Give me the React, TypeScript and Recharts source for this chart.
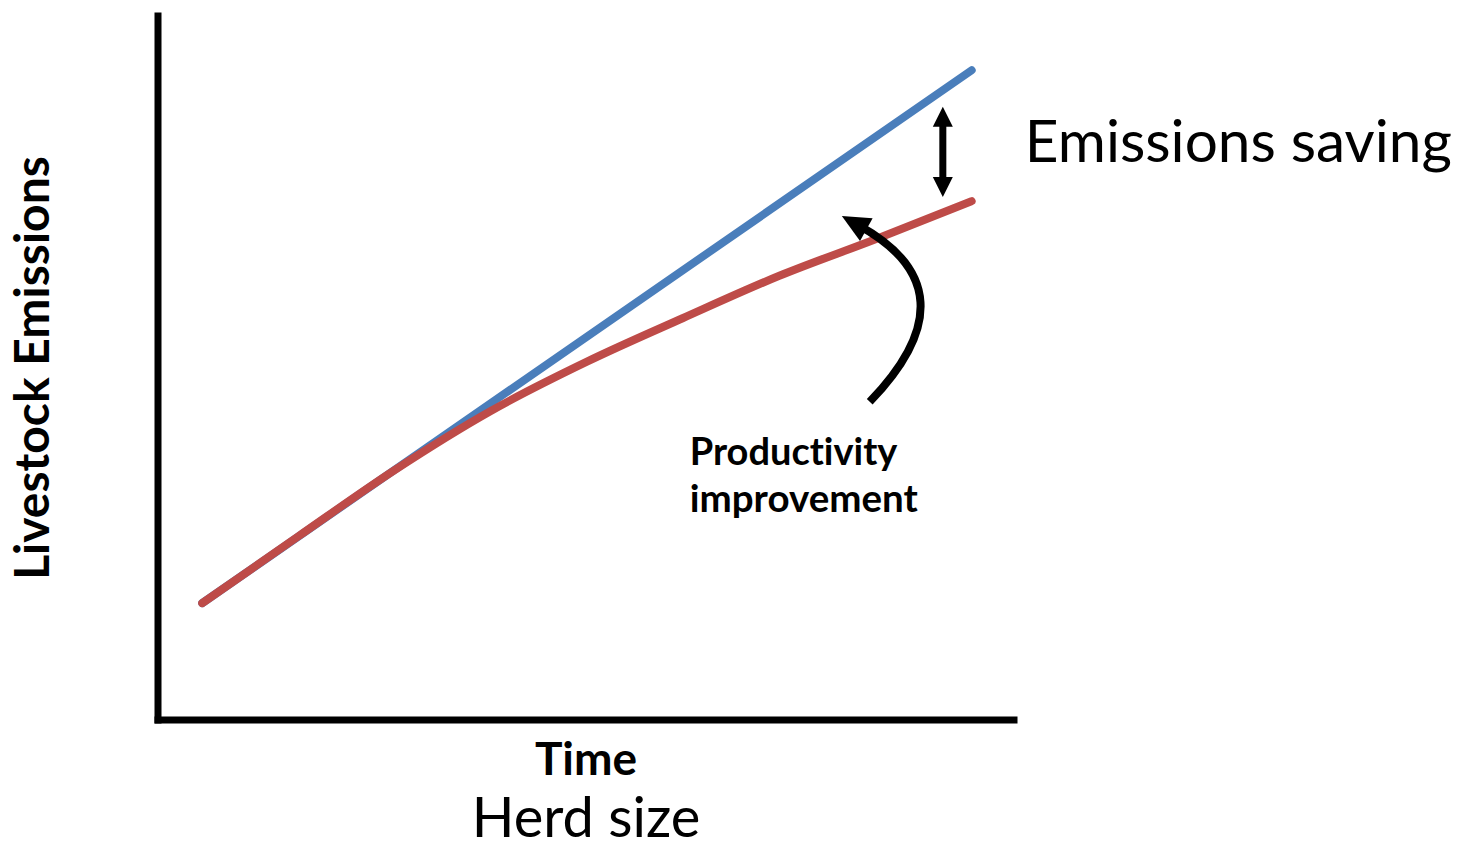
import { LineChart, Line, XAxis, YAxis, ReferenceLine, Label } from "recharts";

// time steps along the x axis
const TIME = [1, 2, 3, 4, 5, 6, 7, 8, 9];
// emissions when productivity improves (red)
const WITH_PRODUCTIVITY = [16.6, 26.1, 35.5, 43.9, 50.9, 57.1, 63.1, 68.3, 73.7];
// business-as-usual straight line (blue), start and end only
const BAU_TIME = [1, 9];
const BAU = [16.6, 92.3];

// annotation anchors, in data units
const SAVING_AT = 8.7;
const SAVING_RANGE = [87.1, 74.3];
const IMPROVEMENT_FROM = { t: 7.94, v: 45.2 };
const IMPROVEMENT_TO = { t: 7.65, v: 71.6 };

const FONT = "Lato, 'Open Sans', sans-serif";
const NO_LIGA = { fontVariantLigatures: "none" as const };
const BLUE = "#4A7EBB";
const RED = "#BE4B48";

const redData = TIME.map((t, i) => ({ t, v: WITH_PRODUCTIVITY[i] }));
const blueData = BAU_TIME.map((t, i) => ({ t, v: BAU[i] }));

function DoubleArrow(props: any) {
  const { x1, y1, y2 } = props;
  const top = Math.min(y1, y2);
  const bot = Math.max(y1, y2);
  const head = 20;
  const half = 10;
  return (
    <g>
      <line x1={x1} y1={top + head - 2} x2={x1} y2={bot - head + 2} stroke="#000" strokeWidth={7} />
      <polygon points={`${x1},${top} ${x1 - half},${top + head} ${x1 + half},${top + head}`} fill="#000" />
      <polygon points={`${x1},${bot} ${x1 - half},${bot - head} ${x1 + half},${bot - head}`} fill="#000" />
      <text x={x1 + 82} y={(top + bot) / 2 + 10} fontSize={58.5} fontFamily={FONT} fill="#000" style={NO_LIGA}>
        Emissions saving
      </text>
    </g>
  );
}

function CurvedArrow(props: any) {
  const { x1, y1, x2, y2 } = props;
  const dx = x2 - x1;
  const dy = y2 - y1;
  const len = Math.hypot(dx, dy);
  const mx = (x1 + x2) / 2;
  const my = (y1 + y2) / 2;
  // bend to the right of the direction of travel
  const nx = -dy / len;
  const ny = dx / len;
  const cx = mx + nx * len * 0.65;
  const cy = my + ny * len * 0.65;
  let ux = x2 - cx;
  let uy = y2 - cy;
  const ul = Math.hypot(ux, uy);
  ux /= ul;
  uy /= ul;
  const headLen = 28;
  const half = 13;
  const bx = x2 - ux * headLen;
  const by = y2 - uy * headLen;
  const ex = x2 - ux * headLen * 0.7;
  const ey = y2 - uy * headLen * 0.7;
  return (
    <g>
      <path d={`M${x1},${y1} Q${cx},${cy} ${ex},${ey}`} fill="none" stroke="#000" strokeWidth={8} />
      <polygon
        points={`${x2},${y2} ${bx - uy * half},${by + ux * half} ${bx + uy * half},${by - ux * half}`}
        fill="#000"
      />
      <text x={x1 - 180} y={y1 + 63} fontSize={38} fontWeight={700} fontFamily={FONT} fill="#000" style={NO_LIGA}>
        Productivity
      </text>
      <text x={x1 - 180} y={y1 + 110} fontSize={38.5} fontWeight={700} fontFamily={FONT} fill="#000" style={NO_LIGA}>
        improvement
      </text>
    </g>
  );
}

export default function App() {
  return (
    <div style={{ position: "absolute", left: 0, top: 0, background: "#fff" }}>
      <LineChart
        width={1458}
        height={849}
        margin={{ top: 16, right: 444, bottom: 128, left: 157 }}
      >
        <XAxis
          type="number"
          dataKey="t"
          domain={[0.54, 9.44]}
          allowDataOverflow
          height={1}
          tick={false}
          tickLine={false}
          axisLine={{ stroke: "#000", strokeWidth: 7, strokeLinecap: "square" }}
        >
          <Label value="Time" position="bottom" offset={21} fontSize={46} fontWeight={700} fontFamily={FONT} fill="#000" />
          <Label value="Herd size" position="bottom" offset={76} fontSize={56} fontFamily={FONT} fill="#000" />
        </XAxis>
        <YAxis
          type="number"
          domain={[0, 100]}
          allowDataOverflow
          width={1}
          tick={false}
          tickLine={false}
          axisLine={{ stroke: "#000", strokeWidth: 7, strokeLinecap: "square" }}
        >
          <Label
            value="Livestock Emissions"
            position="left"
            offset={125}
            angle={-90}
            fontSize={48}
            fontWeight={700}
            fontFamily={FONT}
            fill="#000"
            textAnchor="middle"
            style={{ textAnchor: "middle" }}
          />
        </YAxis>
        <Line
          data={blueData}
          dataKey="v"
          type="linear"
          stroke={BLUE}
          strokeWidth={8}
          strokeLinecap="round"
          dot={false}
          activeDot={false}
          isAnimationActive={false}
        />
        <Line
          data={redData}
          dataKey="v"
          type="monotone"
          stroke={RED}
          strokeWidth={8}
          strokeLinecap="round"
          dot={false}
          activeDot={false}
          isAnimationActive={false}
        />
        <ReferenceLine
          segment={[
            { x: SAVING_AT, y: SAVING_RANGE[0] },
            { x: SAVING_AT, y: SAVING_RANGE[1] },
          ]}
          ifOverflow="visible"
          shape={(p: any) => <DoubleArrow {...p} />}
        />
        <ReferenceLine
          segment={[
            { x: IMPROVEMENT_FROM.t, y: IMPROVEMENT_FROM.v },
            { x: IMPROVEMENT_TO.t, y: IMPROVEMENT_TO.v },
          ]}
          ifOverflow="visible"
          shape={(p: any) => <CurvedArrow {...p} />}
        />
      </LineChart>
    </div>
  );
}
